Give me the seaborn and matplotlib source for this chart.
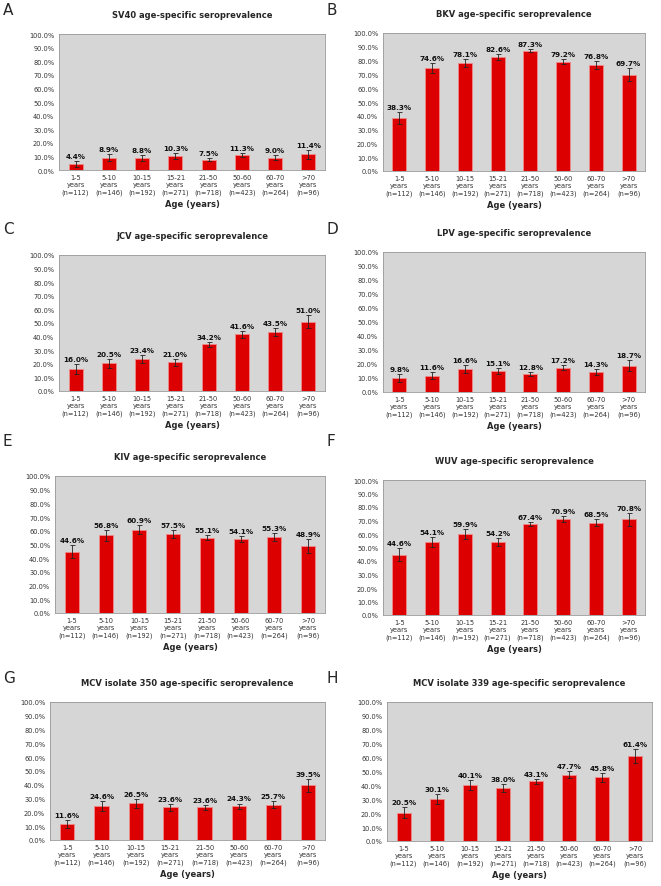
import numpy as np
import pandas as pd
import seaborn as sns
import matplotlib.pyplot as plt

ages = ["1-5\nyears\n(n=112)", "5-10\nyears\n(n=146)", "10-15\nyears\n(n=192)",
        "15-21\nyears\n(n=271)", "21-50\nyears\n(n=718)", "50-60\nyears\n(n=423)",
        "60-70\nyears\n(n=264)", ">70\nyears\n(n=96)"]

sv40 = [4.4, 8.9, 8.8, 10.3, 7.5, 11.3, 9.0, 11.4]
sv40_err = [2.0, 2.5, 2.3, 1.9, 1.0, 1.5, 1.8, 3.3]
bkv = [38.3, 74.6, 78.1, 82.6, 87.3, 79.2, 76.8, 69.7]
bkv_err = [4.6, 3.6, 3.0, 2.3, 1.2, 2.0, 2.6, 4.7]
jcv = [16.0, 20.5, 23.4, 21.0, 34.2, 41.6, 43.5, 51.0]
jcv_err = [3.5, 3.3, 3.0, 2.5, 1.8, 2.4, 3.0, 5.0]
lpv = [9.8, 11.6, 16.6, 15.1, 12.8, 17.2, 14.3, 18.7]
lpv_err = [2.8, 2.6, 2.7, 2.2, 1.2, 1.8, 2.2, 4.0]
kiv = [44.6, 56.8, 60.9, 57.5, 55.1, 54.1, 55.3, 48.9]
kiv_err = [4.7, 4.0, 3.5, 3.0, 1.8, 2.4, 3.0, 5.0]
wuv = [44.6, 54.1, 59.9, 54.2, 67.4, 70.9, 68.5, 70.8]
wuv_err = [4.7, 4.0, 3.5, 3.0, 1.7, 2.2, 2.8, 4.6]
mcv350 = [11.6, 24.6, 26.5, 23.6, 23.6, 24.3, 25.7, 39.5]
mcv350_err = [3.0, 3.5, 3.2, 2.6, 1.6, 2.1, 2.7, 5.0]
mcv339 = [20.5, 30.1, 40.1, 38.0, 43.1, 47.7, 45.8, 61.4]
mcv339_err = [3.8, 3.8, 3.5, 2.9, 1.8, 2.4, 3.0, 5.0]

panels = [
    ("A", "SV40 age-specific seroprevalence", sv40, sv40_err),
    ("B", "BKV age-specific seroprevalence", bkv, bkv_err),
    ("C", "JCV age-specific seroprevalence", jcv, jcv_err),
    ("D", "LPV age-specific seroprevalence", lpv, lpv_err),
    ("E", "KIV age-specific seroprevalence", kiv, kiv_err),
    ("F", "WUV age-specific seroprevalence", wuv, wuv_err),
    ("G", "MCV isolate 350 age-specific seroprevalence", mcv350, mcv350_err),
    ("H", "MCV isolate 339 age-specific seroprevalence", mcv339, mcv339_err),
]

# axes boxes in pixels: left, right, top, bottom
boxes = [(59, 325, 35, 171), (383, 645, 34, 172),
         (59, 325, 256, 392), (383, 645, 253, 393),
         (55, 325, 477, 614), (383, 645, 481, 616),
         (50, 325, 703, 841), (387, 652, 703, 842)]
# panel letter top-left corners in pixels
letter_pos = [(3, 3), (326, 3), (3, 222), (326, 222),
              (3, 434), (326, 434), (3, 671), (326, 671)]

W, H = 661, 887
sns.set_style("white")
plt.rcParams['font.family'] = ['DejaVu Sans']
fig = plt.figure(figsize=(W / 100, H / 100), dpi=100)

for (letter, title, vals, errs), (l, r, t, b), (lx, ly) in zip(panels, boxes, letter_pos):
    ax = fig.add_axes([l / W, 1 - b / H, (r - l) / W, (b - t) / H])
    df = pd.DataFrame({"age": ages, "pct": vals})
    sns.barplot(data=df, x="age", y="pct", ax=ax, color="#dd0000", width=0.42,
                edgecolor="#f08a8a", linewidth=0.6, saturation=1)
    ax.errorbar(np.arange(len(vals)), vals, yerr=errs, fmt="none",
                ecolor="#222222", elinewidth=0.6, capsize=1.8, capthick=0.6)
    for i, (v, e) in enumerate(zip(vals, errs)):
        ax.text(i, v + e + 1.5, f"{v:.1f}%", ha="center", va="bottom",
                fontsize=5.2, fontweight="bold", color="#111111")
    ax.set_facecolor("#d6d6d6")
    ax.set_ylim(0, 100)
    ax.set_xlim(-0.5, 7.5)
    ax.set_yticks(np.arange(0, 101, 10))
    ax.set_yticklabels([f"{y:.1f}%" for y in range(0, 101, 10)], fontsize=4.8, color="#333333")
    ax.tick_params(axis="y", length=2, width=0.5, color="#888888", pad=1.5)
    ax.tick_params(axis="x", length=0, labelsize=4.8, labelcolor="#333333", pad=3)
    for s in ax.spines.values():
        s.set_color("#999999")
        s.set_linewidth(0.6)
    ax.set_ylabel("")
    ax.set_xlabel("Age (years)", fontsize=6, fontweight="bold", labelpad=3)
    ax.set_title(title, fontsize=6, fontweight="bold", pad=12)
    fig.text(lx / W, 1 - ly / H, letter, fontsize=11, ha="left", va="top")

fig.savefig("out.png", dpi=100)
